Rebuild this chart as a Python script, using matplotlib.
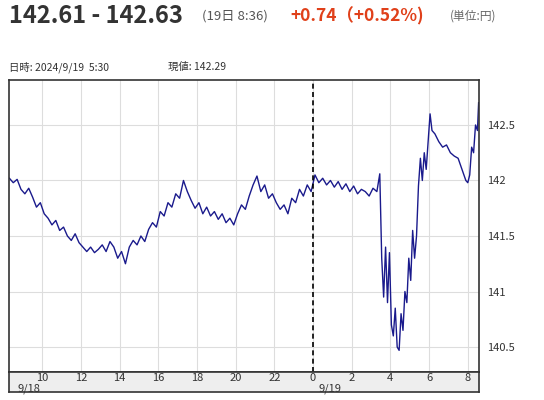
import matplotlib
matplotlib.use("Agg")
import matplotlib.pyplot as plt

plt.rcParams['font.family'] = ['Noto Sans CJK JP', 'DejaVu Sans']

hours = [8.3,8.5,8.7,8.9,9.1,9.3,9.5,9.7,9.9,10.1,10.3,10.5,10.7,10.9,11.1,11.3,11.5,11.7,11.9,12.1,12.3,12.5,12.7,12.9,13.1,13.3,13.5,13.7,13.9,14.1,14.3,14.5,14.7,14.9,15.1,15.3,15.5,15.7,15.9,16.1,16.3,16.5,16.7,16.9,17.1,17.3,17.5,17.7,17.9,18.1,18.3,18.5,18.7,18.9,19.1,19.3,19.5,19.7,19.9,20.1,20.3,20.5,20.7,20.9,21.1,21.3,21.5,21.7,21.9,22.1,22.3,22.5,22.7,22.9,23.1,23.3,23.5,23.7,23.9,24.1,24.3,24.5,24.7,24.9,25.1,25.3,25.5,25.7,25.9,26.1,26.3,26.5,26.7,26.9,27.1,27.3,27.45,27.55,27.65,27.75,27.85,27.95,28.05,28.15,28.25,28.35,28.45,28.55,28.65,28.75,28.85,28.95,29.05,29.15,29.25,29.35,29.45,29.55,29.65,29.75,29.85,29.95,30.05,30.15,30.3,30.5,30.7,30.9,31.1,31.3,31.5,31.7,31.9,32.0,32.1,32.2,32.3,32.4,32.5,32.56]
prices = [142.02,141.98,142.01,141.92,141.88,141.93,141.85,141.76,141.8,141.7,
          141.66,141.6,141.64,141.55,141.58,141.5,141.46,141.52,141.44,141.4,
          141.36,141.4,141.35,141.38,141.42,141.36,141.45,141.4,141.3,141.36,
          141.25,141.4,141.46,141.42,141.5,141.45,141.56,141.62,141.58,141.72,
          141.68,141.8,141.76,141.88,141.84,142.0,141.9,141.82,141.75,141.8,
          141.7,141.76,141.68,141.72,141.65,141.7,141.62,141.66,141.6,141.7,
          141.78,141.74,141.86,141.96,142.04,141.9,141.96,141.84,141.88,141.8,
          141.74,141.78,141.7,141.84,141.8,141.92,141.86,141.96,141.9,142.05,
          141.98,142.02,141.96,142.0,141.94,141.99,141.92,141.97,141.9,141.95,
          141.88,141.92,141.9,141.86,141.93,141.9,
          142.06,141.3,140.95,141.4,140.9,141.35,140.7,140.6,140.85,140.5,
          140.47,140.8,140.65,141.0,140.9,141.3,141.1,141.55,141.3,141.5,
          141.95,142.2,142.0,142.25,142.1,142.35,142.6,142.45,
          142.42,142.35,142.3,142.32,142.25,142.22,142.2,142.1,142.0,
          141.98,142.05,142.3,142.25,142.5,142.45,
          142.7]

xticks = [10,12,14,16,18,20,22,24,26,28,30,32]
xlabels = ['10','12','14','16','18','20','22','0','2','4','6','8']
yticks = [140.5,141,141.5,142,142.5]
ylabels = ['140.5','141','141.5','142','142.5']

fig = plt.figure(figsize=(5.44,4.0), dpi=100)
W, H = 544, 400
x0, x1 = 8.28, 32.58
ax = fig.add_axes([9/W, 28/H, 470/W, 292/H])
ax.plot(hours, prices, color='#1a1a8c', lw=1.0)
ax.set_xlim(x0, x1)
ax.set_ylim(140.275, 142.905)
ax.set_xticks(xticks)
ax.set_yticks(yticks)
ax.grid(True, color='#dddddd', lw=0.8)
ax.axvline(24, color='black', ls=(0,(3,2)), lw=1.2)
ax.tick_params(axis='x', length=0, labelbottom=False)
ax.tick_params(axis='y', length=0, labelleft=False, labelright=True, labelsize=8, colors='#333333', pad=6)
ax.set_yticklabels(ylabels)
for s in ax.spines.values():
    s.set_color('#333333'); s.set_linewidth(1.2)

sx = fig.add_axes([9/W, 8/H, 470/W, 20/H])
sx.set_facecolor('#eeeeee')
sx.set_xlim(x0, x1); sx.set_ylim(0, 1)
sx.set_xticks([]); sx.set_yticks([])
for s in sx.spines.values():
    s.set_color('#333333'); s.set_linewidth(1.2)
for t, l in zip(xticks, xlabels):
    sx.text(t, 0.7, l, ha='center', va='center', fontsize=8, color='#333333')
sx.text(8.7, 0.15, '9/18', ha='left', va='center', fontsize=8, color='#333333')
sx.text(24.3, 0.15, '9/19', ha='left', va='center', fontsize=8, color='#333333')

fig.text(9/W, 1-16/H, '142.61 - 142.63', fontsize=17, fontweight='bold', color='#333333', va='center')
fig.text(202/W, 1-16/H, '(19日 8:36)', fontsize=9.5, color='#555555', va='center')
fig.text(290/W, 1-16/H, '+0.74（+0.52%)', fontsize=12.5, fontweight='bold', color='#e0401a', va='center')
fig.text(450/W, 1-16/H, '(単位:円)', fontsize=8.5, color='#666666', va='center')
fig.text(9/W, 1-67/H, '日時: 2024/9/19  5:30', fontsize=7.5, color='#333333', va='center')
fig.text(168/W, 1-67/H, '現値: 142.29', fontsize=7.5, color='#333333', va='center')

fig.savefig('out.png', dpi=100)
